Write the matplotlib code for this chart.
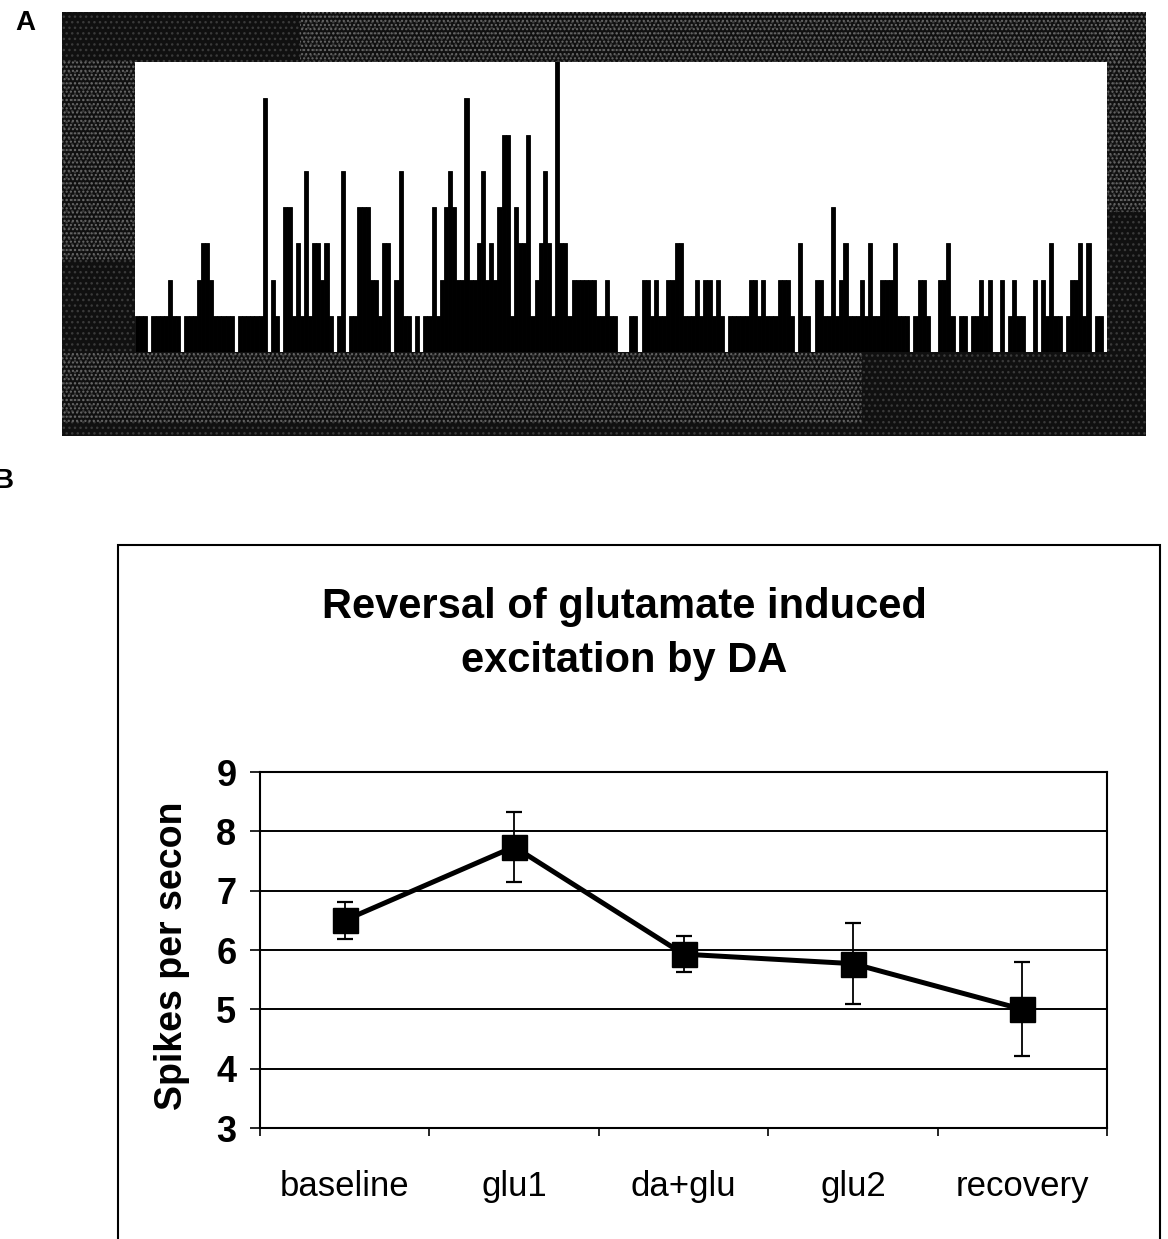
import numpy as np
import matplotlib.pyplot as plt
from matplotlib.patches import Rectangle

plt.rcParams['font.family'] = ['Liberation Sans', 'DejaVu Sans']
plt.rcParams['hatch.linewidth'] = 1.0

# Panel A: spike counts per time bin
spike_counts = [
    # left part
    1, 1, 1, 0, 1, 1, 1, 1, 2, 1, 1, 0, 1, 1, 1, 2, 3, 3, 2, 1, 1, 1, 1, 1,
    0, 1, 1, 1, 1, 1, 1, 7, 0, 2, 1, 0, 4, 4, 1, 3, 1, 5, 1, 3, 3, 2, 3,
    # glutamate burst
    1, 0, 1, 5, 0, 1, 1, 4, 4, 4, 2, 2, 1, 3, 3, 0, 2, 5, 1, 1, 0, 1, 0, 1,
    1, 4, 1, 2, 4, 5, 4, 2, 2, 7, 2, 2, 3, 5, 2, 3, 2, 4, 6, 6, 1, 4, 3, 3, 6,
    # peak and decline
    1, 2, 3, 5, 3, 1, 9, 3, 3, 1, 2, 2, 2, 2, 2, 2, 1, 1, 2, 1, 1, 0, 0, 0,
    1, 1, 0, 2, 2, 1, 2, 1, 1, 2, 2, 3, 3, 1, 1, 1, 2, 1, 2, 2, 1, 2, 1, 0,
    # late part
    1, 1, 1, 1, 1, 2, 2, 1, 2, 1, 1, 1, 2, 2, 2, 1, 0, 3, 1, 1, 0, 2, 2, 1,
    1, 4, 1, 2, 3, 1, 1, 1, 2, 1, 3, 1, 1, 2, 2, 2, 3, 1, 1, 1, 0,
    1, 2, 2, 1, 0, 0, 2, 2, 3, 1, 0, 1, 1, 0, 1, 1, 2, 1, 2, 0, 0, 2, 0, 1,
    2, 1, 1, 0, 0, 2, 0, 2, 1, 3, 1, 1, 0, 1, 2, 2, 3, 1, 3, 0, 1, 1, 0,
]

# Panel B: mean firing rate per condition with error bars
conditions = ['baseline', 'glu1', 'da+glu', 'glu2', 'recovery']
rate_mean = [6.5, 7.74, 5.93, 5.77, 5.0]
rate_err = [0.31, 0.59, 0.30, 0.68, 0.79]
y_ticks = [3, 4, 5, 6, 7, 8, 9]

W, H = 1168, 1239
fig = plt.figure(figsize=(W / 100, H / 100), dpi=100)
fig.patch.set_facecolor('white')

# ---- panel A frame (dark stippled border of the scan) ----
ax_bg = fig.add_axes([62 / W, 1 - 436 / H, (1146 - 62) / W, (436 - 12) / H])
ax_bg.set_xlim(62, 1146)
ax_bg.set_ylim(436, 12)
ax_bg.axis('off')
ax_bg.add_patch(Rectangle((62, 12), 1084, 424, facecolor='#101010', edgecolor='none'))
# faint speckle everywhere, lighter speckle where the scan is greyer
ax_bg.add_patch(Rectangle((62, 12), 1084, 424, facecolor='none',
                          edgecolor='#3a3a3a', hatch='...', linewidth=0))
stipple = [(300, 12, 820, 50), (62, 60, 73, 200), (62, 352, 800, 70),
           (1107, 12, 39, 200)]
for (x0, y0, w, h) in stipple:
    ax_bg.add_patch(Rectangle((x0, y0), w, h, facecolor='none',
                              edgecolor='#6a6a6a', hatch='....', linewidth=0))

ax_a = fig.add_axes([135 / W, 1 - 352 / H, 972 / W, 290 / H])
ax_a.bar(np.arange(len(spike_counts)), spike_counts, width=1.0, align='edge',
         color='black', edgecolor='black', linewidth=0.6)
ax_a.set_xlim(0, len(spike_counts))
ax_a.set_ylim(0, 8)
ax_a.set_facecolor('white')
ax_a.set_xticks([])
ax_a.set_yticks([])
for s in ax_a.spines.values():
    s.set_visible(False)

fig.text(25 / W, 1 - 23 / H, 'A', fontsize=20, fontweight='bold', ha='center', va='center')
fig.text(3 / W, 1 - 481 / H, 'B', fontsize=20, fontweight='bold', ha='center', va='center')

# ---- panel B ----
fig.add_artist(Rectangle((118 / W, -0.02), (1160 - 118) / W, 0.02 + 1 - 545 / H,
                         transform=fig.transFigure, fill=False, lw=1.5, ec='black'))

fig.text(624 / W, 1 - 634 / H, 'Reversal of glutamate induced\nexcitation by DA',
         fontsize=30, fontweight='bold', ha='center', va='center', linespacing=1.47)

ax_b = fig.add_axes([260 / W, 1 - 1128 / H, 847 / W, 356 / H])
x = np.arange(len(conditions)) + 0.5
ax_b.errorbar(x, rate_mean, yerr=rate_err, fmt='none', ecolor='black',
              elinewidth=1.3, capsize=6, capthick=1.6, zorder=3)
ax_b.plot(x, rate_mean, color='black', lw=3.6, marker='s', ms=18, zorder=4)

ax_b.set_xlim(0, len(conditions))
ax_b.set_ylim(3, 9)
ax_b.set_yticks(y_ticks)
ax_b.yaxis.grid(True, color='black', lw=1.4)
ax_b.set_axisbelow(True)
for s in ax_b.spines.values():
    s.set_linewidth(1.5)
    s.set_color('black')

ax_b.set_xticks(np.arange(len(conditions) + 1))
ax_b.set_xticklabels([])
ax_b.set_xticks(x, minor=True)
ax_b.set_xticklabels(conditions, minor=True)
ax_b.tick_params(axis='x', which='major', direction='out', length=6, width=1.2)
ax_b.tick_params(axis='x', which='minor', length=0, pad=30, labelsize=25)
ax_b.tick_params(axis='y', direction='out', length=7, width=1.2, pad=10, labelsize=26)
for lbl in ax_b.get_yticklabels():
    lbl.set_fontweight('bold')

fig.text(172 / W, 1 - 956 / H, 'Spikes per secon', fontsize=27, fontweight='bold',
         rotation=90, ha='center', va='center')

fig.savefig('out.png', dpi=100, facecolor='white')
